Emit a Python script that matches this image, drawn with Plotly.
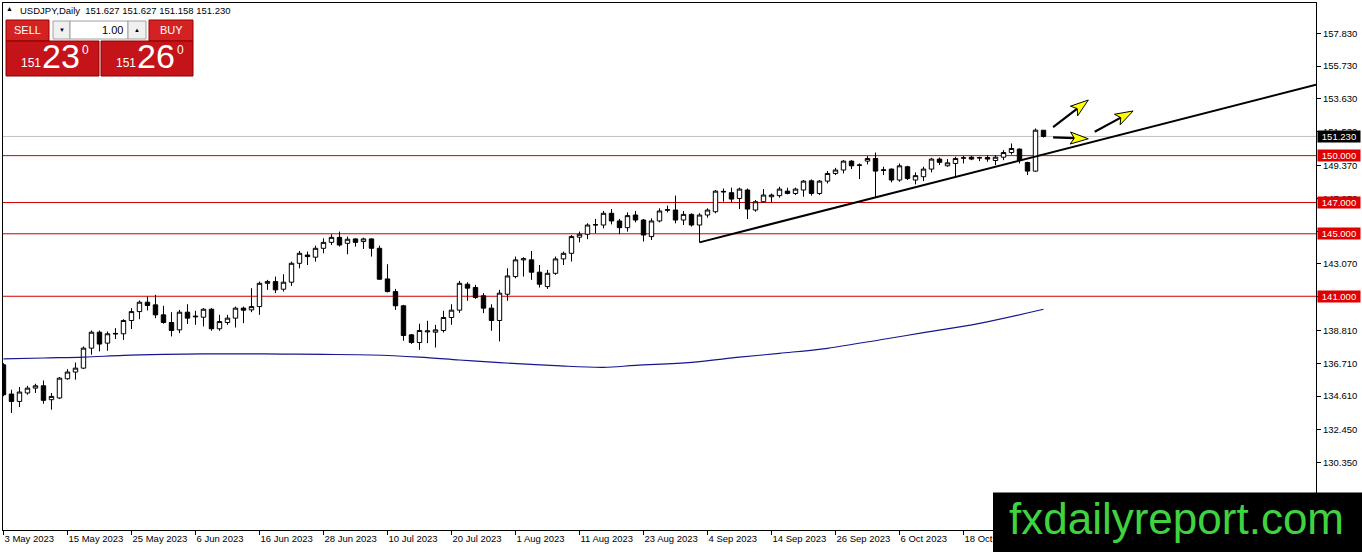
import math
import pandas as pd
import plotly.graph_objects as go

symbol = "USDJPY,Daily"
dates = pd.bdate_range("2023-05-03", "2023-11-01")

opens = [136.61, 134.74, 134.27, 134.81, 135.12, 135.27, 134.38, 134.49, 135.72, 136.15,
         136.40, 137.68, 138.70, 138.00, 138.58, 138.60, 139.45, 140.02, 140.62, 140.45,
         139.81, 139.32, 138.85, 139.98, 139.68, 139.66, 140.17, 138.92, 139.32, 139.60,
         140.24, 140.13, 140.34, 141.83, 141.94, 141.45, 141.90, 143.11, 143.64, 143.50,
         144.07, 144.45, 144.77, 144.39, 144.67, 144.50, 144.67, 144.07, 142.11, 141.30,
         140.39, 138.53, 138.04, 138.72, 138.70, 138.81, 139.64, 140.11, 141.77, 141.56,
         141.03, 140.24, 139.45, 141.13, 142.26, 143.33, 143.33, 142.54, 141.62, 142.47,
         143.39, 143.75, 144.78, 144.97, 145.56, 145.56, 146.31, 145.82, 145.39, 146.20,
         145.88, 144.82, 145.82, 146.50, 146.52, 145.88, 146.24, 145.56, 146.20, 146.41,
         147.67, 147.63, 147.26, 147.80, 146.52, 147.05, 147.37, 147.44, 147.73, 147.58,
         147.80, 148.39, 147.58, 148.37, 148.86, 149.08, 149.65, 149.38, 149.65, 149.82,
         149.05, 149.14, 148.44, 149.29, 148.44, 148.65, 149.14, 149.78, 149.35, 149.50,
         149.84, 149.90, 149.85, 149.88, 149.69, 149.90, 150.20, 150.42, 149.56, 149.01,
         151.627]
highs = [136.72, 135.02, 135.19, 135.27, 135.40, 135.61, 134.81, 135.83, 136.34, 136.76,
         137.79, 138.81, 138.81, 138.75, 138.96, 139.53, 140.24, 140.73, 140.98, 141.09,
         140.39, 139.98, 140.13, 140.49, 140.07, 140.24, 140.24, 139.81, 139.81, 140.34,
         140.34, 141.52, 141.94, 142.05, 142.26, 142.41, 143.22, 143.90, 143.86, 144.24,
         144.71, 144.97, 145.14, 144.82, 144.71, 144.75, 144.71, 144.24, 143.05, 141.47,
         140.45, 138.58, 139.24, 139.43, 139.17, 140.07, 140.49, 141.98, 141.90, 141.73,
         141.20, 140.49, 141.41, 142.79, 143.54, 143.50, 143.90, 143.00, 142.69, 143.54,
         143.86, 144.92, 145.14, 145.67, 145.95, 146.46, 146.58, 145.95, 146.37, 146.46,
         145.95, 145.99, 146.63, 146.80, 147.44, 146.46, 146.31, 146.31, 146.63, 147.80,
         147.90, 147.95, 147.95, 147.90, 147.16, 147.86, 147.58, 148.01, 147.95, 147.95,
         148.44, 148.48, 148.44, 149.01, 149.22, 149.71, 149.71, 149.50, 149.97, 150.20,
         149.29, 149.18, 149.50, 149.35, 148.93, 149.29, 149.86, 149.88, 149.78, 149.93,
         149.99, 149.99, 149.93, 150.03, 150.03, 150.35, 150.78, 150.46, 149.61, 151.74,
         151.627]
lows = [134.60, 133.53, 133.91, 134.70, 134.81, 134.12, 133.74, 134.42, 135.66, 135.66,
        136.34, 137.26, 137.47, 137.51, 138.26, 138.21, 138.90, 139.53, 140.09, 139.60,
        139.24, 138.43, 138.64, 139.22, 139.17, 139.07, 138.79, 138.79, 139.17, 139.00,
        139.28, 139.98, 139.81, 141.41, 141.20, 141.30, 141.66, 142.79, 143.00, 143.22,
        143.75, 144.28, 144.18, 143.69, 144.18, 144.03, 143.54, 142.07, 141.25, 140.13,
        138.15, 137.95, 137.57, 138.00, 137.72, 138.68, 139.17, 139.94, 140.71, 140.83,
        139.92, 138.79, 138.11, 140.71, 142.15, 142.26, 142.05, 141.56, 141.47, 142.37,
        143.00, 143.22, 144.45, 144.65, 145.03, 145.35, 145.60, 144.97, 145.14, 145.73,
        144.50, 144.60, 145.73, 146.37, 145.67, 145.56, 145.46, 144.45, 146.03, 146.31,
        147.05, 147.01, 146.58, 145.94, 146.41, 147.01, 147.01, 147.31, 147.52, 147.48,
        147.37, 147.44, 147.48, 148.22, 148.76, 148.86, 149.14, 148.50, 149.44, 147.31,
        148.76, 148.29, 148.33, 148.44, 148.16, 148.37, 148.93, 149.40, 149.29, 148.65,
        149.50, 149.71, 149.65, 149.61, 149.40, 149.71, 150.07, 149.50, 148.76, 148.97,
        151.158]
closes = [134.70, 134.27, 134.87, 135.12, 135.27, 134.34, 134.59, 135.76, 136.15, 136.40,
          137.68, 138.70, 137.94, 138.60, 138.62, 139.45, 140.02, 140.62, 140.41, 139.81,
          139.32, 138.81, 139.98, 139.60, 139.72, 140.17, 138.92, 139.38, 139.60, 140.24,
          140.11, 140.34, 141.83, 141.94, 141.41, 141.90, 143.11, 143.75, 143.54, 144.07,
          144.45, 144.77, 144.28, 144.65, 144.45, 144.67, 144.07, 142.09, 141.30, 140.39,
          138.49, 138.04, 138.81, 138.78, 138.85, 139.64, 140.11, 141.83, 141.52, 140.92,
          140.24, 139.45, 141.20, 142.30, 143.33, 143.40, 142.54, 141.77, 142.47, 143.39,
          143.75, 144.82, 144.97, 145.56, 145.58, 146.31, 145.82, 145.39, 146.16, 145.88,
          144.92, 145.82, 146.46, 146.54, 145.88, 146.24, 145.56, 146.20, 146.52, 147.73,
          147.71, 147.22, 147.86, 146.58, 147.05, 147.48, 147.48, 147.86, 147.58, 147.86,
          148.37, 147.58, 148.37, 148.86, 149.08, 149.65, 149.35, 149.40, 149.82, 149.01,
          149.09, 148.44, 149.35, 148.54, 148.72, 149.14, 149.78, 149.57, 149.54, 149.82,
          149.86, 149.78, 149.87, 149.78, 149.90, 150.20, 150.46, 149.71, 149.01, 151.63,
          151.230]

# moving average at a few bars
ma_bars = [0, 5, 10, 15, 20, 25, 30, 35, 40, 46, 52, 57, 62, 69, 75, 79, 86, 92, 97, 103, 110, 115, 122, 130]
ma_values = [136.99, 137.05, 137.10, 137.22, 137.28, 137.31, 137.31, 137.30, 137.28, 137.24, 137.10, 136.92,
             136.75, 136.56, 136.45, 136.58, 136.77, 137.10, 137.35, 137.67, 138.25, 138.67, 139.27, 140.17]

levels = [150.0, 147.0, 145.0, 141.0]
trend_bars = [87, 109]
trend_prices = [144.45, 147.33]

arrow_from_bars = [131.2, 131.2, 136.4]
arrow_from_prices = [151.83, 151.17, 151.53]
arrow_to_bars = [135.6, 135.6, 141.2]
arrow_to_prices = [153.56, 151.08, 152.86]

price_ticks = [157.83, 155.73, 153.63, 151.53, 149.37, 147.27, 145.17, 143.07,
               140.97, 138.81, 136.71, 134.61, 132.45, 130.35]
bid, ask, lot = 151.230, 151.260, 1.00

X0, X1 = -0.06, 164.06
Y0, Y1 = 126.04, 159.77
W, H = 1362, 552
ML, MR, MT, MB = 3, 46, 3, 22
PW, PH = W - ML - MR, H - MT - MB

def fx(px):
    return (px - ML) / PW

def fy(py):
    return (MT + PH - py) / PH

FONT = "Liberation Sans"
RED = "#cc0000"
bars = list(range(len(closes)))

fig = go.Figure()
fig.add_trace(go.Candlestick(
    x=bars, open=opens, high=highs, low=lows, close=closes,
    increasing=dict(line=dict(color="black", width=1), fillcolor="white"),
    decreasing=dict(line=dict(color="black", width=1), fillcolor="black"),
    whiskerwidth=0, showlegend=False, hoverinfo="skip"))
fig.add_trace(go.Scatter(x=ma_bars, y=ma_values, mode="lines", line_shape="spline",
                         line=dict(color="#16168e", width=1.2), showlegend=False, hoverinfo="skip"))

shapes = []
for lv in levels:
    shapes.append(dict(type="line", xref="paper", x0=0, x1=1, y0=lv, y1=lv,
                       line=dict(color=RED, width=1), layer="below"))
shapes.append(dict(type="line", xref="paper", x0=0, x1=1, y0=closes[-1], y1=closes[-1],
                   line=dict(color="#c0c0c0", width=1), layer="below"))

# trend line drawn as a ray to the right edge
slope = (trend_prices[1] - trend_prices[0]) / (trend_bars[1] - trend_bars[0])
shapes.append(dict(type="line", x0=trend_bars[0], y0=trend_prices[0],
                   x1=X1, y1=trend_prices[0] + slope * (X1 - trend_bars[0]),
                   line=dict(color="black", width=2)))

# arrows: black shaft, yellow head
ppb, ppp = PW / (X1 - X0), PH / (Y1 - Y0)
for sb, sp, tb, tp in zip(arrow_from_bars, arrow_from_prices, arrow_to_bars, arrow_to_prices):
    sx, sy, tx, ty = sb * ppb, sp * ppp, tb * ppb, tp * ppp
    ln = math.hypot(tx - sx, ty - sy)
    ux, uy = (tx - sx) / ln, (ty - sy) / ln
    nx, ny = -uy, ux
    hl, hw, notch = 18, 6, 4
    bx, by = tx - hl * ux, ty - hl * uy
    pts = [(tx, ty), (bx + hw * nx, by + hw * ny), (bx + notch * ux, by + notch * uy),
           (bx - hw * nx, by - hw * ny)]
    shapes.append(dict(type="line", x0=sb, y0=sp, x1=pts[2][0] / ppb, y1=pts[2][1] / ppp,
                       line=dict(color="black", width=2.2)))
    path = "M " + " L ".join(f"{x / ppb:.4f},{y / ppp:.4f}" for x, y in pts) + " Z"
    shapes.append(dict(type="path", path=path, fillcolor="#ffff00",
                       line=dict(color="black", width=1)))

def box(x0, y0, x1, y1, fill, line="rgba(0,0,0,0)"):
    shapes.append(dict(type="rect", xref="paper", yref="paper", x0=fx(x0), x1=fx(x1),
                       y0=fy(y1), y1=fy(y0), fillcolor=fill, line=dict(color=line, width=1),
                       layer="above"))

annotations = []

def label(x, y, text, size, color="black", xanchor="center", yanchor="middle", **kw):
    annotations.append(dict(xref="paper", yref="paper", x=fx(x), y=fy(y), text=text,
                            showarrow=False, xanchor=xanchor, yanchor=yanchor,
                            font=dict(family=FONT, size=size, color=color), **kw))

# one-click trading panel
box(6, 20, 49, 41, "#d42222", "#9c0000")
box(149, 20, 193, 41, "#d42222", "#9c0000")
box(53, 21, 70, 39, "#f0f0f0", "#a0a0a0")
box(70, 21, 128, 39, "white", "#a0a0a0")
box(128, 21, 146, 39, "#f0f0f0", "#a0a0a0")
box(6, 41, 99, 76, "#c4141a", "#8a0000")
box(101, 41, 193, 76, "#c4141a", "#8a0000")
label(27.5, 30.5, "SELL", 11, "white")
label(171, 30.5, "BUY", 11, "white")
label(61.5, 30, "▼", 6)
label(137, 30, "▲", 6)
label(125, 30.5, f"{lot:.2f}", 11, xanchor="right")
for px0, price in [(6, bid), (101, ask)]:
    s = f"{price:.3f}"
    label(px0 + 25, 62.5, s[:3], 12, "white")
    label(px0 + 55, 56, s[4:6], 34, "white")
    label(px0 + 79.5, 50.5, s[6], 12, "white")

# header
label(9.5, 9, "▲", 7)
label(18, 10.5, f"{symbol}  {opens[-1]:.3f} {highs[-1]:.3f} {lows[-1]:.3f} {closes[-1]:.3f}",
      9.5, xanchor="left")

# price-axis labels for levels and current price
for lv in levels:
    annotations.append(dict(xref="paper", yref="y", x=1, y=lv, xanchor="left", xshift=1,
                            text=f"{lv:.3f}", showarrow=False, bgcolor="#e00000",
                            width=42, height=11, borderpad=0,
                            font=dict(family=FONT, size=9.5, color="white")))
annotations.append(dict(xref="paper", yref="y", x=1, y=closes[-1], xanchor="left", xshift=1,
                        text=f"{closes[-1]:.3f}", showarrow=False, bgcolor="black",
                        width=42, height=11, borderpad=0,
                        font=dict(family=FONT, size=9.5, color="white")))

# watermark
box(993, 492.5, 1365, 556, "black")
label(1176.5, 518.5, "fxdailyreport.com", 44, "#3fd33f")

tick_bars = bars[:121:8]
fig.update_layout(
    width=W, height=H, margin=dict(l=ML, r=MR, t=MT, b=MB),
    paper_bgcolor="white", plot_bgcolor="white",
    boxgap=0.45, boxgroupgap=0,
    shapes=shapes, annotations=annotations,
    font=dict(family=FONT, size=9.5, color="black"),
    xaxis=dict(range=[X0, X1], rangeslider=dict(visible=False), showgrid=False, zeroline=False,
               tickvals=tick_bars, ticktext=[f"{dates[i].day} {dates[i]:%b %Y}" for i in tick_bars],
               ticks="outside", ticklen=4, tickcolor="black", ticklabelposition="outside right",
               showline=True, linecolor="black", linewidth=1, mirror=True,
               tickfont=dict(family=FONT, size=9.5, color="black")),
    yaxis=dict(range=[Y0, Y1], side="right", showgrid=False, zeroline=False,
               tickvals=price_ticks, ticktext=[f"{v:.3f}" for v in price_ticks],
               ticks="outside", ticklen=4, tickcolor="black",
               showline=True, linecolor="black", linewidth=1, mirror=True,
               tickfont=dict(family=FONT, size=9.5, color="black")),
)

fig.write_html("out.html", config={"displayModeBar": False},
               post_script="document.body.style.margin='0';")
